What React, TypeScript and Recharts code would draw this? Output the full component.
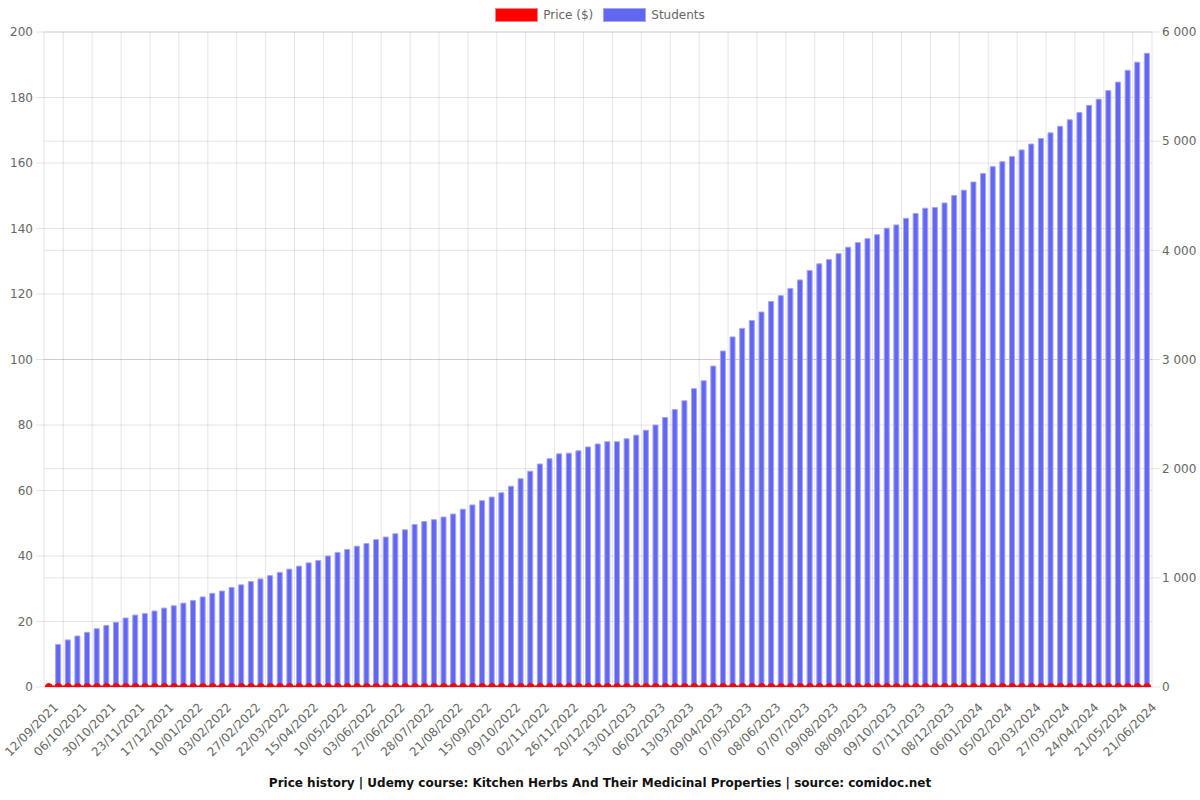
import React from "react";
import {
  ComposedChart,
  Bar,
  Line,
  XAxis,
  YAxis,
  CartesianGrid,
} from "recharts";

// tick labels, one every third category
const tickLabels = [
  "12/09/2021", "06/10/2021", "30/10/2021", "23/11/2021", "17/12/2021",
  "10/01/2022", "03/02/2022", "27/02/2022", "22/03/2022", "15/04/2022",
  "10/05/2022", "03/06/2022", "27/06/2022", "28/07/2022", "21/08/2022",
  "15/09/2022", "09/10/2022", "02/11/2022", "26/11/2022", "20/12/2022",
  "13/01/2023", "06/02/2023", "13/03/2023", "09/04/2023", "07/05/2023",
  "08/06/2023", "07/07/2023", "09/08/2023", "08/09/2023", "09/10/2023",
  "07/11/2023", "08/12/2023", "06/01/2024", "05/02/2024", "02/03/2024",
  "27/03/2024", "24/04/2024", "21/05/2024", "21/06/2024",
];

const students: (number | null)[] = [
  null, 390, 431, 467, 501, 534, 564, 593, 632, 659,
  672, 696, 723, 744, 768, 792, 825, 858, 879, 912,
  936, 966, 990, 1020, 1050, 1080, 1107, 1137, 1158, 1200,
  1233, 1260, 1290, 1314, 1350, 1374, 1404, 1440, 1488, 1515,
  1533, 1557, 1584, 1629, 1668, 1707, 1740, 1779, 1839, 1908,
  1977, 2043, 2091, 2136, 2142, 2163, 2199, 2226, 2247, 2247,
  2274, 2307, 2352, 2400, 2469, 2541, 2622, 2733, 2805, 2940,
  3078, 3207, 3285, 3357, 3435, 3531, 3585, 3651, 3729, 3816,
  3876, 3915, 3969, 4029, 4071, 4107, 4143, 4203, 4233, 4293,
  4338, 4386, 4392, 4434, 4503, 4551, 4626, 4704, 4767, 4812,
  4860, 4920, 4974, 5025, 5076, 5136, 5196, 5262, 5328, 5385,
  5463, 5541, 5649, 5724, 5805,
];

const price = [
  0, 0, 0, 0, 0, 0, 0, 0, 0, 0, 0, 0, 0, 0, 0, 0, 0, 0, 0, 0,
  0, 0, 0, 0, 0, 0, 0, 0, 0, 0, 0, 0, 0, 0, 0, 0, 0, 0, 0, 0,
  0, 0, 0, 0, 0, 0, 0, 0, 0, 0, 0, 0, 0, 0, 0, 0, 0, 0, 0, 0,
  0, 0, 0, 0, 0, 0, 0, 0, 0, 0, 0, 0, 0, 0, 0, 0, 0, 0, 0, 0,
  0, 0, 0, 0, 0, 0, 0, 0, 0, 0, 0, 0, 0, 0, 0, 0, 0, 0, 0, 0,
  0, 0, 0, 0, 0, 0, 0, 0, 0, 0, 0, 0, 0, 0, 0,
];

const priceTicks = [0, 20, 40, 60, 80, 100, 120, 140, 160, 180, 200];
const studentTicks = [0, 1000, 2000, 3000, 4000, 5000, 6000];

const data = students.map((s, i) => ({
  label: i % 3 === 0 ? tickLabels[i / 3] : "",
  students: s,
  price: price[i],
}));

const GRID = "rgba(0,0,0,0.1)";
const BLUE = "#6366f1";

const fmtThousands = (v: number) =>
  String(v).replace(/\B(?=(\d{3})+(?!\d))/g, " ");

function DateTick({ x, y, payload }: any) {
  if (!payload.value) return null;
  const ax = x + 10;
  const ay = y + 19;
  return (
    <text
      x={ax}
      y={ay}
      transform={`rotate(-45, ${ax}, ${ay})`}
      textAnchor="end"
      fill="#666"
      fontSize={12}
    >
      {payload.value}
    </text>
  );
}

// chart.js style offset grid: lines halfway between labelled categories
const verticalLines = ({ offset }: any) => {
  const n = data.length;
  const band = offset.width / n;
  const xs = [offset.left, offset.left + offset.width];
  for (let k = 0; 3 * k + 2 < n; k++) xs.push(offset.left + (3 * k + 2) * band);
  return xs;
};

function LegendItem({ color, border, text }: any) {
  return (
    <div style={{ display: "flex", alignItems: "center", marginRight: 10 }}>
      <div
        style={{
          width: 41,
          height: 12,
          background: color,
          border: `1px solid ${border}`,
          marginRight: 5,
        }}
      />
      <span style={{ fontSize: 12, color: "#666" }}>{text}</span>
    </div>
  );
}

export default function App() {
  return (
    <div
      style={{
        position: "absolute",
        left: 0,
        top: 0,
        width: 1200,
        height: 800,
        fontFamily: "DejaVu Sans",
        background: "#fff",
        overflow: "hidden",
      }}
    >
      <div
        style={{
          position: "absolute",
          top: 8,
          left: 0,
          width: 1200,
          display: "flex",
          justifyContent: "center",
          paddingLeft: 10,
          boxSizing: "border-box",
        }}
      >
        <LegendItem color="#ff0000" border="#ff8080" text="Price ($)" />
        <LegendItem color={BLUE} border="#a5a6f6" text="Students" />
      </div>
      <ComposedChart
        width={1200}
        height={800}
        data={data}
        margin={{ top: 32, right: 0, bottom: 0, left: 0 }}
        barCategoryGap={0}
        style={{ overflow: "visible" }}
      >
        <CartesianGrid
          stroke={GRID}
          horizontal={false}
          verticalCoordinatesGenerator={verticalLines}
        />
        <CartesianGrid stroke={GRID} vertical={false} yAxisId="left" />
        <CartesianGrid stroke={GRID} vertical={false} yAxisId="right" />
        <XAxis
          dataKey="label"
          interval={0}
          height={113}
          tick={<DateTick />}
          tickLine={false}
          axisLine={false}
          tickSize={0}
        />
        <YAxis
          yAxisId="left"
          orientation="left"
          width={44}
          domain={[0, 200]}
          ticks={priceTicks}
          allowDataOverflow
          axisLine={false}
          tickLine={{ stroke: GRID }}
          tickSize={8}
          tickMargin={3}
          tick={{ fill: "#666", fontSize: 12 }}
        />
        <YAxis
          yAxisId="right"
          orientation="right"
          width={48}
          domain={[0, 6000]}
          ticks={studentTicks}
          axisLine={false}
          tickLine={{ stroke: GRID }}
          tickSize={8}
          tickMargin={2}
          tick={{ fill: "#666", fontSize: 12 }}
          tickFormatter={fmtThousands}
        />
        <Bar
          yAxisId="right"
          dataKey="students"
          name="Students"
          fill={BLUE}
          stroke="#a5a6f6"
          strokeWidth={1}
          barSize={5}
          isAnimationActive={false}
        />
        <Line
          yAxisId="left"
          dataKey="price"
          name="Price ($)"
          stroke="#ff0000"
          strokeWidth={3}
          dot={{ r: 3.5, fill: "#ff0000", stroke: "#ff0000", strokeWidth: 1 }}
          isAnimationActive={false}
        />
      </ComposedChart>
      <div
        style={{
          position: "absolute",
          top: 776,
          left: 0,
          width: 1200,
          textAlign: "center",
          fontSize: 12,
          fontWeight: "bold",
          color: "#111",
        }}
      >
        Price history | Udemy course: Kitchen Herbs And Their Medicinal
        Properties | source: comidoc.net
      </div>
    </div>
  );
}
